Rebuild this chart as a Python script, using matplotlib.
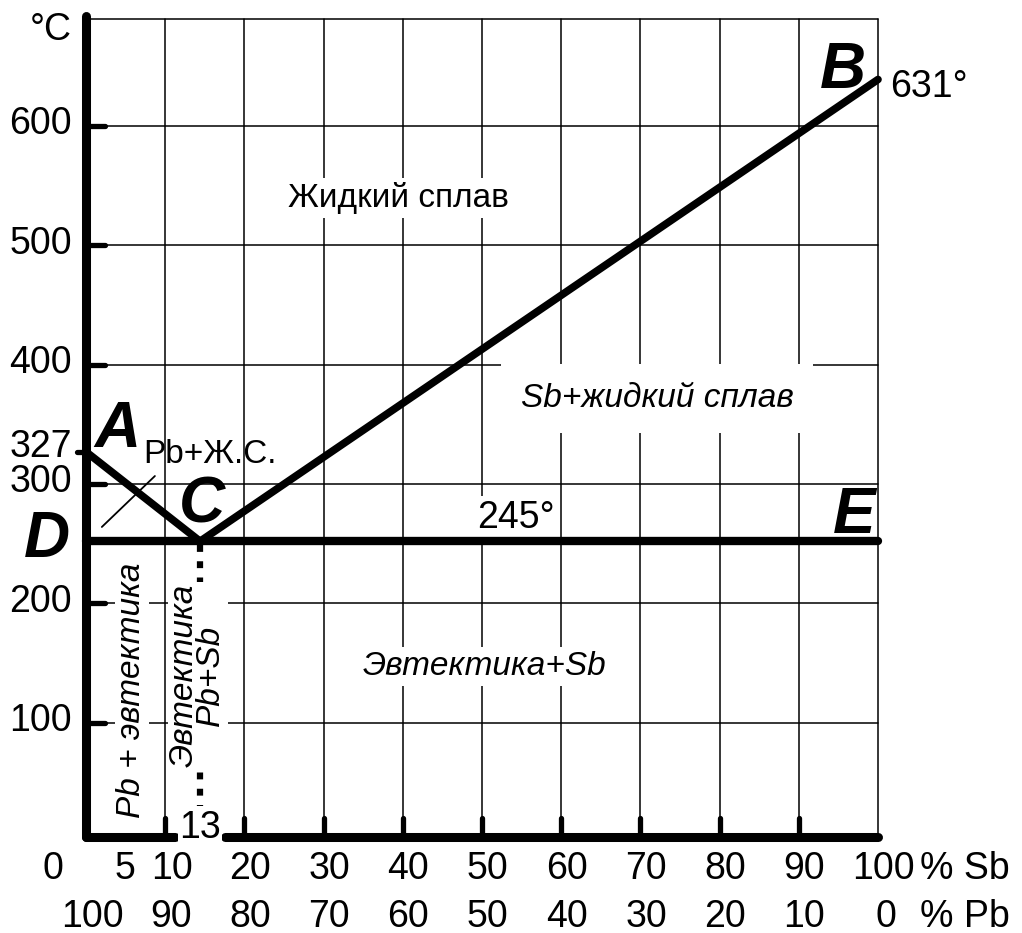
import matplotlib
matplotlib.use('Agg')
import matplotlib.pyplot as plt

plt.rcParams['font.family'] = ['Liberation Sans', 'DejaVu Sans']

# Pb-Sb diagram, values as drawn in the picture
x_A, t_A = 0, 327        # Pb melting point
x_B, t_B = 100, 639      # Sb, labelled 631°
x_C, t_C = 14.4, 252     # eutectic point, labelled 13 % / 245°
y_bot = 4
y_top = 690

temp_ticks = [100, 200, 300, 400, 500, 600]
grid_x = [10, 20, 30, 40, 50, 60, 70, 80, 90, 100]
sb_labels = [0, 5, 10, 20, 30, 40, 50, 60, 70, 80, 90, 100]
pb_labels = [100, 90, 80, 70, 60, 50, 40, 30, 20, 10, 0]

K = 'black'
fig = plt.figure(figsize=(10.22, 9.33), dpi=100)
ax = fig.add_axes([86/1022, 91/933, 792/1022, 700*1.1933/933])
ax.set_xlim(0, 100)
ax.set_ylim(0, 700)
ax.axis('off')

def line(xs, ys, lw, z=4, **kw):
    ax.plot(xs, ys, color=K, lw=lw, zorder=z, clip_on=False,
            solid_capstyle='round', **kw)

# thin grid
for x in grid_x:
    line([x, x], [y_bot, y_top], 1.1, z=1)
for t in temp_ticks + [y_top]:
    line([0, 100], [t, t], 1.1, z=1)

# thick axes and ticks
line([0, 0], [y_bot, y_top + 2], 6.5)
line([0, 11.2], [y_bot, y_bot], 6.5)
line([17.6, 100], [y_bot, y_bot], 6.5)
for t in temp_ticks:
    line([0, 2.4], [t, t], 3.8)
for x in grid_x[:-1]:
    line([x, x], [y_bot, 20], 3.8)
line([-1.1, 0], [t_A, t_A], 3.8)

# liquidus, eutectic line
line([x_A, x_C], [t_A, t_C], 5.5)
line([x_C, x_B], [t_C, t_B], 5.5)
line([0, 100], [t_C, t_C], 6)
ax.plot([x_C, x_C], [t_C - 3, 30], color=K, lw=4.5, linestyle=(0, (1.1, 1.5)),
        zorder=2, clip_on=False)
line([2.0, 8.7], [264, 306.7], 1.3)

# tick labels
fs = 27
for t in temp_ticks:
    ax.text(-1.8, t - 7, str(t), fontsize=fs, ha='right', va='baseline')
ax.text(-1.8, t_A - 4, str(t_A), fontsize=fs, ha='right', va='baseline')
ax.text(-1.8, 672, '°C', fontsize=fs, ha='right', va='baseline')

nudge1 = {0: -4.2, 5: 4.9, 10: 10.9}
for v in sb_labels:
    ax.text(nudge1.get(v, v + 0.7), -31, str(v), fontsize=fs, ha='center', va='baseline')
for v in pb_labels:
    xp = 100 - v
    xp = 0.8 if xp == 0 else (101 if xp == 100 else xp + 0.7)
    ax.text(xp, -71, str(v), fontsize=fs, ha='center', va='baseline')
ax.text(105.3, -31, '% Sb', fontsize=fs, ha='left', va='baseline')
ax.text(105.3, -71, '% Pb', fontsize=fs, ha='left', va='baseline')
ax.text(x_C, 3.5, '13', fontsize=fs, ha='center', va='baseline', zorder=5,
        bbox=dict(facecolor='white', edgecolor='none', pad=1))

# point letters
bi = dict(fontsize=46, fontweight='bold', fontstyle='italic', ha='center', va='baseline')
ax.text(4.0, 331, 'A', **bi)
ax.text(95.6, 632, 'B', **bi)
ax.text(14.6, 268, 'C', **bi)
ax.text(-4.9, 239, 'D', **bi)
ax.text(97, 259, 'E', **bi)

wb = dict(facecolor='white', edgecolor='none', pad=3)
ax.text(101.5, 624, '631°', fontsize=fs, ha='left', va='baseline')
ax.text(49.4, 263, '245°', fontsize=fs, ha='left', va='baseline', zorder=3, bbox=wb)
ax.text(7.2, 317.6, 'Pb+Ж.С.', fontsize=24, ha='left', va='baseline')

# phase regions
ax.text(39.4, 532, 'Жидкий сплав', fontsize=24, ha='center', va='baseline',
        zorder=3, bbox=wb)
ax.text(72.1, 364.5, 'Sb+жидкий сплав', fontsize=24, fontstyle='italic',
        ha='center', va='baseline', zorder=3, bbox=dict(facecolor='white', edgecolor='none', pad=14))
ax.text(50.3, 140, 'Эвтектика+Sb', fontsize=24, fontstyle='italic',
        ha='center', va='baseline', zorder=3, bbox=wb)
ax.text(5.8, 127, 'Pb + эвтектика', fontsize=24, fontstyle='italic', rotation=90,
        ha='center', va='center', zorder=3, bbox=dict(facecolor='white', edgecolor='none', pad=1))
ax.text(14.1, 140, 'Эвтектика\nPb+Sb', fontsize=24, fontstyle='italic', rotation=90,
        ha='center', va='center', multialignment='center', linespacing=0.8, zorder=3,
        bbox=dict(facecolor='white', edgecolor='none', pad=1))

fig.savefig('out.png', dpi=100)
